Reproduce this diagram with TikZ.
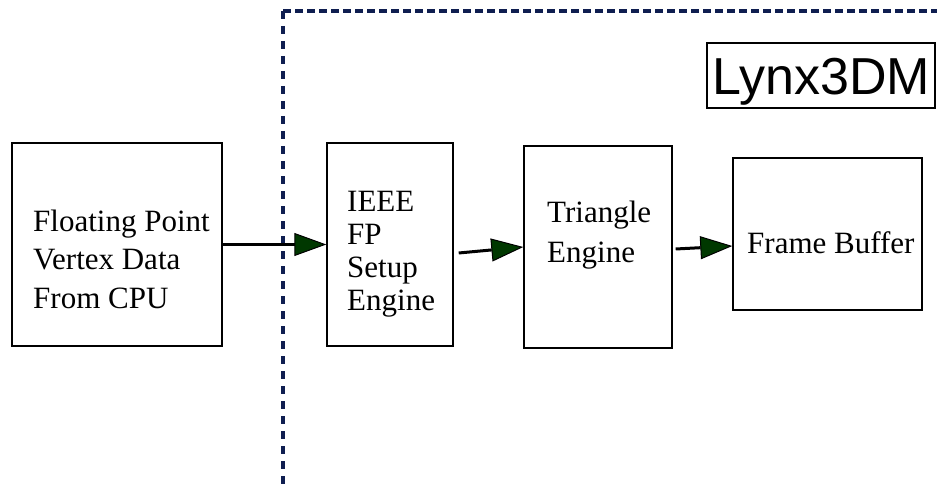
\documentclass[tikz,border=0pt]{standalone}
\usepackage{fontspec}
\setmainfont{Liberation Serif}
\newfontfamily\arialfont{Liberation Sans}
\usetikzlibrary{positioning,arrows.meta}
\definecolor{framenavy}{RGB}{15,30,80}
\definecolor{tipgreen}{RGB}{0,56,0}

\begin{document}
\begin{tikzpicture}[x=1pt,y=-1pt,
		blk/.style={draw,line width=1.4pt,inner sep=0pt},
		lbl/.style={align=left,inner sep=0pt,anchor=base west},
		flow/.style={line width=3pt,-{Triangle[length=32pt,width=23pt,line width=1pt,fill=tipgreen]}},
		fence/.style={draw=framenavy,line width=3.2pt}]
		\useasboundingbox (0,0) rectangle (937,484);
		% chip boundary
		\coordinate (corner) at (283,11);
		\coordinate (fenceTop) at (937,11);
		\coordinate (fenceBot) at (283,484);
		\draw[fence,dash pattern=on 8pt off 7pt] (corner) -- (fenceBot);
		\draw[fence,dash pattern=on 7.5pt off 4.5pt] (corner) -- (fenceTop);
		\node[blk,minimum width=228pt,minimum height=65pt] (lynx) at (821,75.5) {};
		\node[lbl,font=\arialfont\fontsize{52}{52}\selectfont] (lynxText) at (712,95) {Lynx3DM};
		% blocks
		\node[blk,minimum width=210pt,minimum height=203pt] (cpu) at (117,244.5) {};
		\node[blk,minimum width=126pt,minimum height=203pt] (setup) at (390,244.5) {};
		\node[blk,minimum width=148pt,minimum height=202pt] (tri) at (598,247) {};
		\node[blk,minimum width=189pt,minimum height=152pt] (fbuf) at (827.5,234) {};
		\node[lbl,font=\fontsize{31}{38.5}\selectfont] (cpuText) at (33,308) {Floating Point\\Vertex Data\\From CPU};
		\node[lbl,font=\fontsize{31}{33}\selectfont] (setupText) at (347,310) {IEEE\\FP\\Setup\\Engine};
		\node[lbl,font=\fontsize{31}{40}\selectfont] (triText) at (547,262) {Triangle\\Engine};
		\node[lbl,font=\fontsize{31}{33}\selectfont] (fbufText) at (747,253) {Frame Buffer};
		% data flow
		\draw[flow] (cpu.east) -- (setup.west);
		\draw[flow] ([xshift=5pt,yshift=-8.5pt]setup.east) -- (tri.west);
		\draw[flow] ([xshift=3pt,yshift=-2pt]tri.east) -- ([yshift=-12pt]fbuf.west);
	\end{tikzpicture}
\end{document}
